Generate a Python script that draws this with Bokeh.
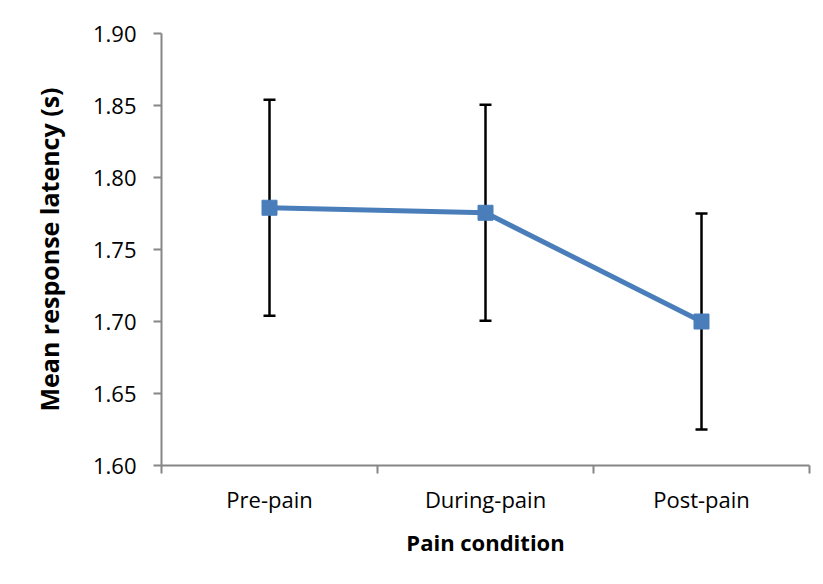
from bokeh.plotting import figure
from bokeh.models import ColumnDataSource, FixedTicker, Range1d, Whisker
from bokeh.embed import file_html
from bokeh.resources import INLINE

categories = ["Pre-pain", "During-pain", "Post-pain"]
means = [1.779, 1.7755, 1.700]
errors = [0.075, 0.075, 0.075]
y_ticks = [1.60, 1.65, 1.70, 1.75, 1.80, 1.85, 1.90]

xs = [i + 0.5 for i in range(len(categories))]
src = ColumnDataSource(dict(
    x=xs, y=means,
    upper=[m + e for m, e in zip(means, errors)],
    lower=[m - e for m, e in zip(means, errors)],
))

p = figure(width=815, height=576, output_backend="svg", toolbar_location=None,
           x_range=Range1d(0, len(categories)), y_range=Range1d(1.60, 1.90),
           min_border_left=161, min_border_top=33, min_border_right=6, min_border_bottom=111)
p.outline_line_color = None
p.grid.visible = False
p.background_fill_color = "white"
p.border_fill_color = "white"

font = "Open Sans"
axis_color = "#868686"

# x axis
p.xaxis.ticker = FixedTicker(ticks=xs, minor_ticks=list(range(len(categories) + 1)))
p.xaxis.major_label_overrides = {x: c for x, c in zip(xs, categories)}
p.xaxis.major_tick_out = 0
p.xaxis.major_tick_in = 0
p.xaxis.minor_tick_out = 8
p.xaxis.minor_tick_in = 0
p.xaxis.minor_tick_line_color = axis_color
p.xaxis.minor_tick_line_width = 2
p.xaxis.axis_line_color = axis_color
p.xaxis.axis_line_width = 2
p.xaxis.major_label_standoff = 10
p.xaxis.axis_label = "Pain condition"
p.xaxis.axis_label_standoff = 10

# y axis
p.yaxis.ticker = FixedTicker(ticks=y_ticks, minor_ticks=[])
p.yaxis.major_label_overrides = {t: f"{t:.2f}" for t in y_ticks}
p.yaxis.major_tick_out = 8
p.yaxis.major_tick_in = 0
p.yaxis.major_tick_line_color = axis_color
p.yaxis.major_tick_line_width = 2
p.yaxis.axis_line_color = axis_color
p.yaxis.axis_line_width = 2
p.yaxis.major_label_standoff = 17
p.yaxis.axis_label = "Mean response latency (s)"
p.yaxis.axis_label_standoff = 24

for ax in (p.xaxis, p.yaxis):
    ax.major_label_text_font = font
    ax.major_label_text_font_size = "22px"
    ax.major_label_text_color = "black"
    ax.axis_label_text_font = font
    ax.axis_label_text_font_style = "bold"
    ax.axis_label_text_color = "black"
p.xaxis.axis_label_text_font_size = "22px"
p.yaxis.axis_label_text_font_size = "25px"

w = Whisker(source=src, base="x", upper="upper", lower="lower",
            line_color="black", line_width=2.5)
w.upper_head.size = 12
w.lower_head.size = 12
w.upper_head.line_width = 2.5
w.lower_head.line_width = 2.5
w.upper_head.line_color = "black"
w.lower_head.line_color = "black"
p.add_layout(w)

p.line("x", "y", source=src, line_color="#4a7ebb", line_width=5)
p.scatter("x", "y", source=src, marker="square", size=15,
          fill_color="#4a7ebb", line_color="#4a7ebb")

open("out.html", "w").write(file_html(p, INLINE))
